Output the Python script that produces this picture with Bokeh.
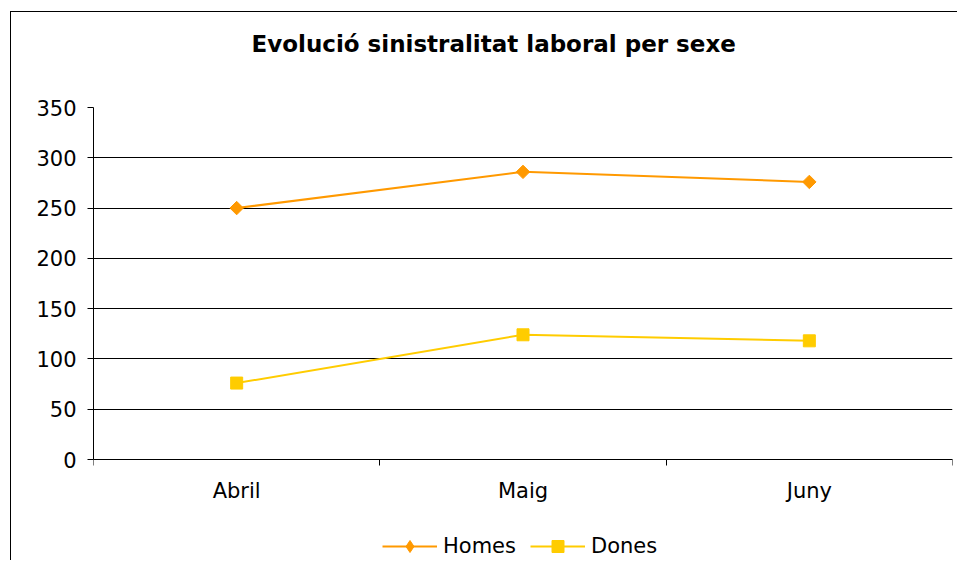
import math
from bokeh.plotting import figure
from bokeh.models import Range1d, FixedTicker, Legend, LegendItem, Title
from bokeh.embed import file_html
from bokeh.resources import INLINE

# ---- data ----
months = ["Abril", "Maig", "Juny"]
homes = [250, 286, 276]
dones = [76, 124, 118]
y_ticks = [0, 50, 100, 150, 200, 250, 300, 350]
title_text = "Evolució sinistralitat laboral per sexe"
series_names = ["Homes", "Dones"]

FONT = "DejaVu Sans"
ORANGE = "#FF9900"
YELLOW = "#FFCC00"

# layout (pixels): plot area 352 px tall for the value axis, 102 px below it
# for the category labels and the legend
AXIS_PX = 352
BELOW_PX = 102
y_max = max(y_ticks)
y_low = -y_max * BELOW_PX / AXIS_PX

x = [i + 0.5 for i in range(len(months))]

p = figure(width=947, height=549, output_backend="svg", toolbar_location=None,
           x_range=Range1d(0, len(months)), y_range=Range1d(y_low, y_max),
           min_border_left=82, min_border_right=6, min_border_top=95, min_border_bottom=0)
p.margin = (11, 0, 0, 10)
p.styles = {"border-left": "1px solid #000000", "border-top": "1px solid #000000"}
p.outline_line_color = None
p.background_fill_color = "white"
p.border_fill_color = "white"
p.title = None

# title: spacer (nearest the frame) then the real title
spacer = Title(text=" ", text_font_size="10px", standoff=38)
main_title = Title(text=title_text, text_font=FONT, text_font_size="23px",
                   text_font_style="bold", text_color="#000000",
                   align="left", offset=158, standoff=0)
p.add_layout(spacer, "above")
p.add_layout(main_title, "above")

# grid
p.xgrid.visible = False
p.ygrid.ticker = FixedTicker(ticks=y_ticks)
p.ygrid.grid_line_color = "#000000"
p.ygrid.grid_line_width = 1

# x axis, drawn at value 0
xa = p.xaxis[0]
xa.fixed_location = 0
xa.ticker = FixedTicker(ticks=x, minor_ticks=list(range(len(months) + 1)))
xa.major_label_overrides = {xi: m for xi, m in zip(x, months)}
xa.major_tick_line_color = None
xa.minor_tick_line_color = "#000000"
xa.minor_tick_in = 0
xa.minor_tick_out = 6
xa.axis_line_color = "#000000"
xa.major_label_text_font = FONT
xa.major_label_text_font_size = "21px"
xa.major_label_text_color = "#000000"
xa.major_label_standoff = 13

# y axis
ya = p.yaxis[0]
ya.bounds = (0, y_max)
ya.ticker = FixedTicker(ticks=y_ticks, minor_ticks=[])
ya.major_tick_line_color = "#000000"
ya.major_tick_in = 0
ya.major_tick_out = 6
ya.minor_tick_line_color = None
ya.axis_line_color = "#000000"
ya.major_label_text_font = FONT
ya.major_label_text_font_size = "21px"
ya.major_label_text_color = "#000000"
ya.major_label_standoff = 11

# series
hl = p.line(x, homes, line_color=ORANGE, line_width=2)
hm = p.scatter(x, homes, marker="square", angle=math.pi / 4, size=9.5,
               fill_color=ORANGE, line_color=ORANGE)
# diamond shape used for the legend key (legend keys ignore marker angle)
hm_key = p.scatter(x, homes, marker="diamond", size=12,
                   fill_color=ORANGE, line_color=ORANGE, visible=False)
dl = p.line(x, dones, line_color=YELLOW, line_width=2)
dm = p.scatter(x, dones, marker="square", size=12, fill_color=YELLOW, line_color=YELLOW)

legend = Legend(items=[LegendItem(label=series_names[0], renderers=[hl, hm_key]),
                       LegendItem(label=series_names[1], renderers=[dl, dm])],
                orientation="horizontal", location=(289, 0))
legend.glyph_width = 55
legend.glyph_height = 30
legend.label_height = 30
legend.label_standoff = 6
legend.spacing = 14
legend.padding = 0
legend.margin = 0
legend.border_line_color = None
legend.background_fill_alpha = 0
legend.label_text_font = FONT
legend.label_text_font_size = "21px"
legend.label_text_color = "#000000"
p.add_layout(legend, "center")

open("out.html", "w").write(file_html(p, INLINE))
